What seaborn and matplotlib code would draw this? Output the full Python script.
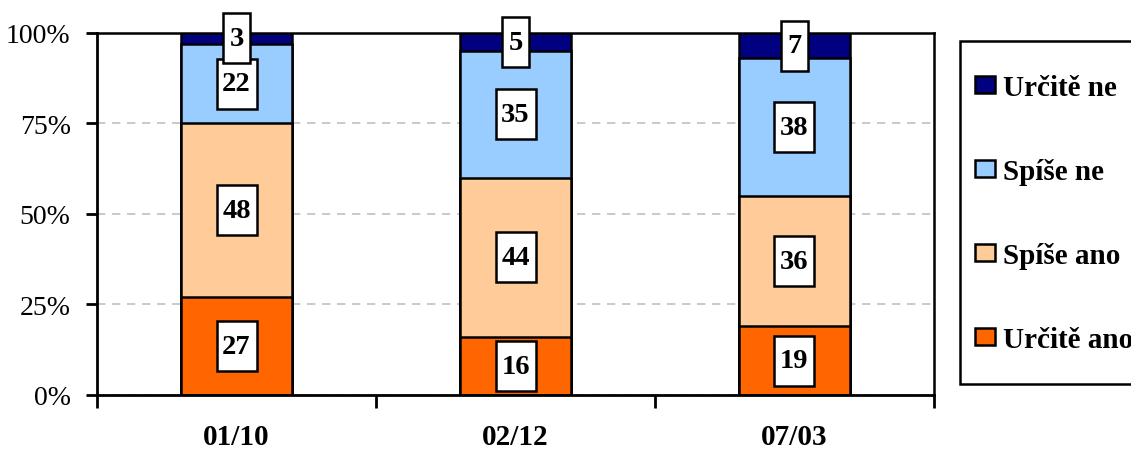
import numpy as np
import pandas as pd
import matplotlib
matplotlib.use('Agg')
import matplotlib.pyplot as plt
import matplotlib.transforms as mtransforms
import seaborn as sns
from matplotlib.patches import Patch, Rectangle

periods = ['01/10', '02/12', '07/03']
urcite_ano = [27, 16, 19]
spise_ano = [48, 44, 36]
spise_ne = [22, 35, 38]
urcite_ne = [3, 5, 7]

series_names = ['Určitě ano', 'Spíše ano', 'Spíše ne', 'Určitě ne']
series_colors = ['#FF6600', '#FFCC99', '#99CCFF', '#000080']

sns.set_style('white')
plt.rcParams['font.family'] = ['Liberation Serif', 'DejaVu Serif']
plt.rcParams['text.color'] = 'black'
plt.rcParams['xtick.color'] = 'black'
plt.rcParams['ytick.color'] = 'black'

df = pd.DataFrame({'period': periods, 'Určitě ano': urcite_ano, 'Spíše ano': spise_ano,
                   'Spíše ne': spise_ne, 'Určitě ne': urcite_ne})
cum = df[series_names].cumsum(axis=1)

fig = plt.figure(figsize=(11.31, 4.52), dpi=100)
ax = fig.add_axes([0.0858, 0.1239, 0.74, 0.8009])

# overlay cumulative bars, tallest first
for name, color in reversed(list(zip(series_names, series_colors))):
    sns.barplot(x=df['period'], y=cum[name], color=color, saturation=1, width=0.4,
                edgecolor='black', linewidth=1.8, ax=ax)

# value labels in tall white boxes
for name in series_names:
    mids = cum[name] - df[name] / 2
    for i, (m, v) in enumerate(zip(mids, df[name])):
        trans = fig.dpi_scale_trans + mtransforms.ScaledTranslation(i, m, ax.transData)
        w = 0.13 * len(str(v)) + 0.14
        ax.add_patch(Rectangle((-w / 2, -0.25), w, 0.5, transform=trans, facecolor='white',
                               edgecolor='black', linewidth=1.8, zorder=5, clip_on=False))
        ax.text(i, m, str(v), ha='center', va='center', fontsize=20.5, fontweight='bold',
                zorder=6, clip_on=False)

ax.set_ylim(0, 100)
ax.set_xlim(-0.5, 2.5)
ax.set_yticks([0, 25, 50, 75, 100])
ax.set_yticklabels(['0%', '25%', '50%', '75%', '100%'], fontsize=20)
ax.set_xticks([0, 1, 2])
ax.set_xticklabels(periods, fontsize=21, fontweight='bold')
ax.set_xticks([-0.5, 0.5, 1.5, 2.5], minor=True)
ax.tick_params(axis='x', which='major', length=0, pad=20)
ax.tick_params(axis='x', which='minor', length=9, width=2, direction='out', bottom=True)
ax.tick_params(axis='y', length=8, width=2, direction='out', left=True, pad=11)
ax.set_xlabel('')
ax.set_ylabel('')

for s in ['left', 'bottom']:
    ax.spines[s].set_linewidth(2)
    ax.spines[s].set_color('black')
for s in ['top', 'right']:
    ax.spines[s].set_linewidth(1.8)
    ax.spines[s].set_color('black')
    ax.spines[s].set_visible(True)

ax.yaxis.grid(True, color='#C0C0C0', linestyle=(0, (5, 4)), linewidth=1.2)
ax.set_axisbelow(True)

# legend frame drawn separately so it can run off the right edge
W, H = 1131, 452
fig.patches.append(Rectangle((960 / W, 1 - 385 / H), 200 / W, 343 / H, transform=fig.transFigure,
                             facecolor='white', edgecolor='black', linewidth=1.8, zorder=0))
handles = [Patch(facecolor=c, edgecolor='black', linewidth=1.8, label=n)
           for n, c in zip(series_names, series_colors)][::-1]
leg = fig.legend(handles=handles, loc='upper left', bbox_to_anchor=(975 / W, 1 - 75 / H),
                 frameon=False, prop={'weight': 'bold', 'size': 21}, labelspacing=1.95,
                 handlelength=0.68, handleheight=0.5, handletextpad=0.27,
                 borderpad=0, borderaxespad=0)

fig.savefig('out.png', dpi=100)
